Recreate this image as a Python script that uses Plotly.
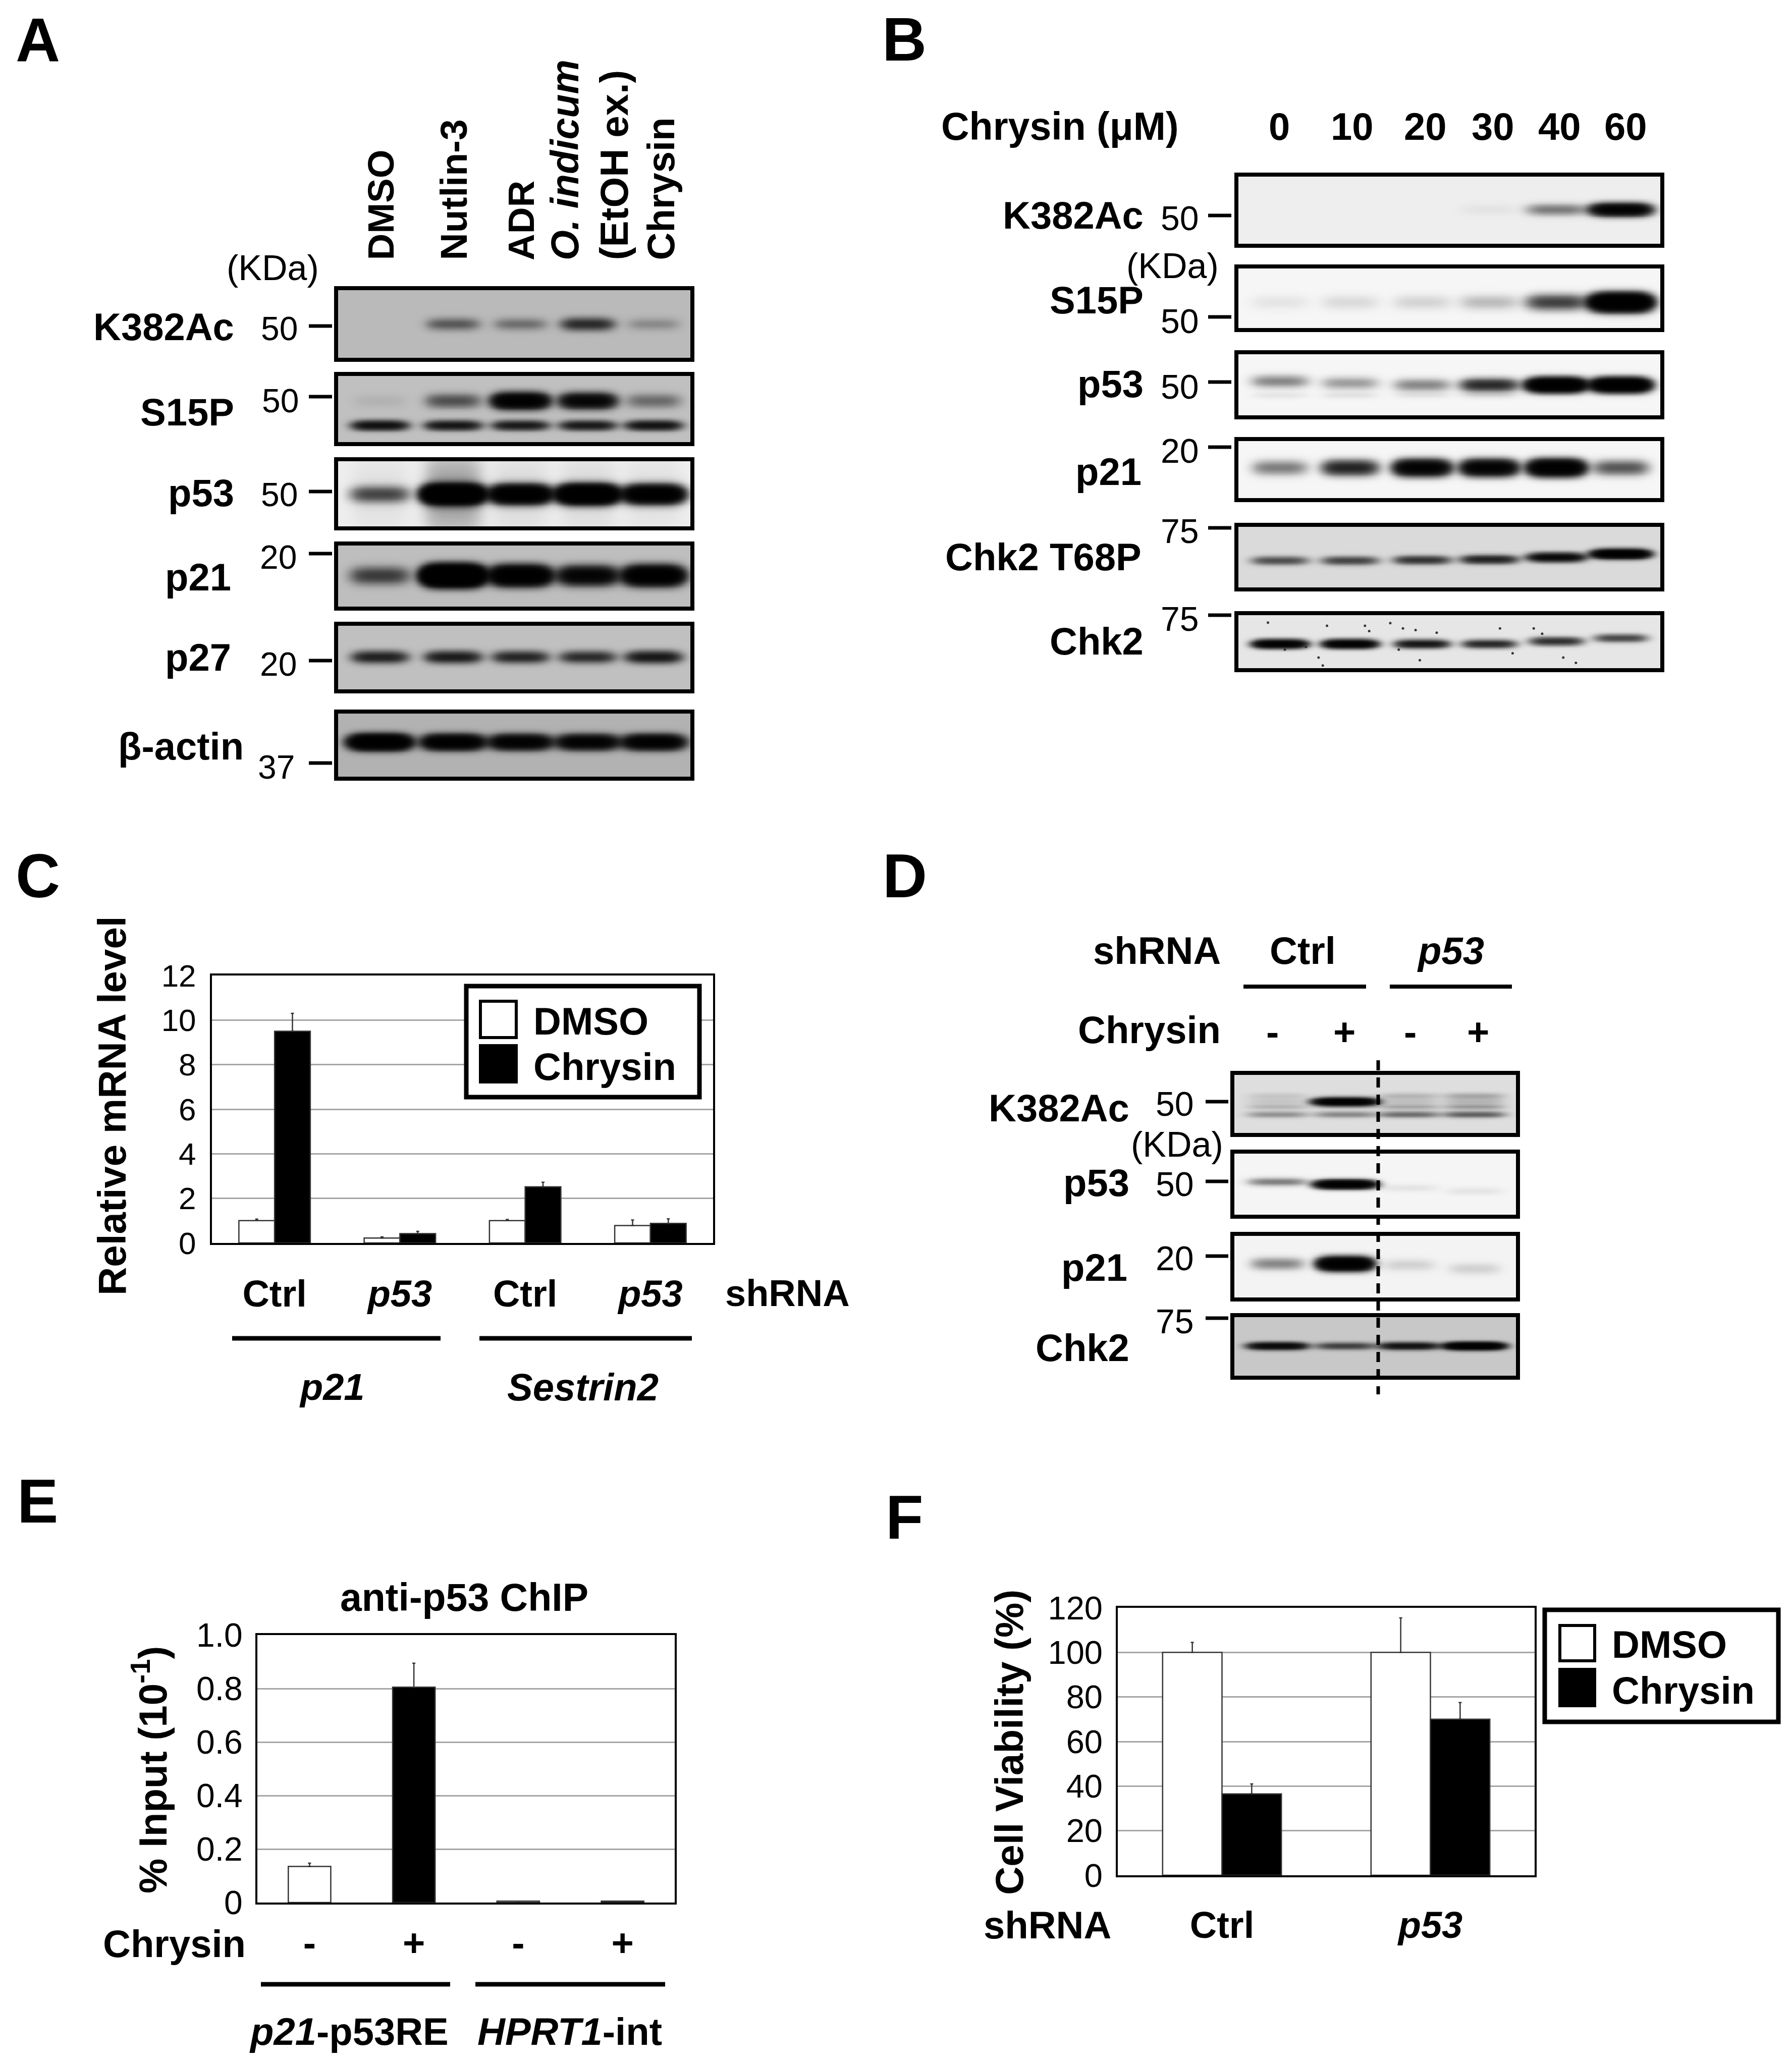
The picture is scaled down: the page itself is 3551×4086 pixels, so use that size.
"""Figure panels A-F: western blots, qPCR, ChIP and viability bars."""

import numpy as np
import plotly.graph_objects as go

W, H = 3551, 4086
PAGE_MARGIN = 8  # default body margin of the written page
FONT = "Liberation Sans"

# band density per lane
A_LANES = [0.118, 0.326, 0.517, 0.708, 0.895]
A_K382AC = [0.0, 0.5, 0.35, 1.0, 0.2]
A_S15P_UPPER = [0.05, 0.6, 3.5, 2.4, 0.4]
A_S15P_LOWER = [1.7, 1.5, 1.4, 1.4, 1.6]
A_P53 = [0.8, 8.0, 5.0, 7.0, 4.5]
A_P53_SMEAR = [0.04, 0.3, 0.06, 0.06, 0.04]
A_P21 = [0.8, 10.0, 5.0, 2.6, 4.5]
A_P27 = [1.2, 1.3, 1.1, 1.0, 1.4]
A_ACTIN = [5.0, 3.6, 3.0, 2.8, 3.2]

B_LANES = [0.098, 0.264, 0.435, 0.594, 0.753, 0.906]
B_K382AC = [0.0, 0.0, 0.0, 0.03, 0.45, 3.0]
B_S15P = [0.05, 0.08, 0.1, 0.18, 0.9, 6.0]
B_P53 = [0.4, 0.3, 0.4, 1.2, 5.0, 5.0]
B_P53_LOWER = [0.05, 0.06, 0.05, 0.07, 0.0, 0.0]
B_P21 = [0.45, 1.3, 3.0, 3.0, 4.0, 0.7]
B_T68P = [0.7, 0.8, 1.0, 1.3, 2.2, 4.0]
B_CHK2 = [3.0, 3.0, 1.6, 1.2, 1.1, 0.8]
B_SPECK_X = [0.07, 0.21, 0.30, 0.31, 0.36, 0.39, 0.19, 0.20, 0.43, 0.62,
             0.65, 0.70, 0.72, 0.77, 0.80, 0.42, 0.47, 0.38, 0.16, 0.11]
B_SPECK_Y = [0.14, 0.20, 0.20, 0.30, 0.15, 0.25, 0.80, 0.95, 0.85, 0.25,
             0.72, 0.25, 0.35, 0.80, 0.90, 0.28, 0.33, 0.65, 0.60, 0.65]

D_LANES = [0.152, 0.393, 0.619, 0.852]
D_K382AC_TOP = [0.08, 0.0, 0.14, 0.2]
D_K382AC_MAIN = [0.08, 3.5, 0.1, 0.14]
D_K382AC_MID = [0.14, 0.0, 0.2, 0.25]
D_K382AC_LOW = [0.3, 0.35, 0.5, 0.6]
D_P53 = [0.45, 4.0, 0.05, 0.05]
D_P21 = [0.4, 4.5, 0.1, 0.1]
D_CHK2 = [2.2, 0.8, 1.7, 4.0]

# panel C
C_GROUPS = ["Ctrl", "<i>p53</i>", "Ctrl", "<i>p53</i>"]
C_DMSO = [1.0, 0.22, 1.0, 0.78]
C_DMSO_ERR = [0.07, 0.05, 0.05, 0.25]
C_CHRYSIN = [9.5, 0.42, 2.52, 0.88]
C_CHRYSIN_ERR = [0.8, 0.1, 0.2, 0.2]
C_TICKS = [0, 2, 4, 6, 8, 10, 12]

# panel E
E_TREATMENT = ["-", "+", "-", "+"]
E_INPUT = [0.135, 0.805, 0.005, 0.005]
E_INPUT_ERR = [0.012, 0.09, 0.0, 0.0]
E_TICKS = [0, 0.2, 0.4, 0.6, 0.8, 1.0]
E_TICK_TEXT = ["0", "0.2", "0.4", "0.6", "0.8", "1.0"]

# panel F
F_GROUPS = ["Ctrl", "<i>p53</i>"]
F_DMSO = [100, 100]
F_DMSO_ERR = [4.5, 15.5]
F_CHRYSIN = [36.5, 70]
F_CHRYSIN_ERR = [4.5, 7.5]
F_TICKS = [0, 20, 40, 60, 80, 100, 120]

fig = go.Figure()
shapes = []
notes = []
axis_count = 0


def X(px):
    return (px - PAGE_MARGIN) / (W - 2 * PAGE_MARGIN)


def Y(py):
    return 1 - (py - PAGE_MARGIN) / (H - 2 * PAGE_MARGIN)


def new_axes(x0, y0, x1, y1, xaxis, yaxis):
    global axis_count
    axis_count += 1
    n = "" if axis_count == 1 else str(axis_count)
    fig.layout["xaxis" + n] = dict(domain=[X(x0), X(x1)], anchor="y" + n, automargin=False, **xaxis)
    fig.layout["yaxis" + n] = dict(domain=[Y(y1), Y(y0)], anchor="x" + n, automargin=False, **yaxis)
    return "x" + n, "y" + n


def note(text, x, y, size=76, anchor="center", bold=True, angle=0, yanchor="middle"):
    notes.append(dict(
        text=f"<b>{text}</b>" if bold else text,
        x=X(x), y=Y(y), xref="paper", yref="paper",
        xanchor=anchor, yanchor=yanchor, textangle=angle, showarrow=False,
        font=dict(family=FONT, size=size, color="black"),
    ))


def rule(x0, y0, x1, y1, width=7, dash="solid"):
    shapes.append(dict(
        type="line", xref="paper", yref="paper", layer="above",
        x0=X(x0), y0=Y(y0), x1=X(x1), y1=Y(y1),
        line=dict(color="black", width=width, dash=dash),
    ))


def swatch(x0, y0, x1, y1, fill, line="black", width=6):
    shapes.append(dict(
        type="rect", xref="paper", yref="paper", layer="above",
        x0=X(x0), y0=Y(y0), x1=X(x1), y1=Y(y1),
        fillcolor=fill, line=dict(color=line, width=width),
    ))


def blot(box, bg, lanes, half_width, bands, specks=None):
    """box is the outer frame in pixels, bands are (density, y, thickness)."""
    x0, y0, x1, y1 = box
    nx, ny = int((x1 - x0) / 4), int((y1 - y0) / 4)
    gx, gy = np.meshgrid(np.linspace(0, 1, nx), np.linspace(0, 1, ny))
    load = np.zeros_like(gx)
    for density, ypos, thick in bands:
        ypos = np.broadcast_to(ypos, (len(lanes),))
        for lane, s, yy in zip(lanes, density, ypos):
            load += s * np.exp(-(np.abs(gx - lane) / half_width) ** 4
                               - ((gy - yy) / thick) ** 2)
    z = bg * np.exp(-1.5 * load)
    xa, ya = new_axes(
        x0 + 8, y0 + 8, x1 - 8, y1 - 8,
        dict(range=[0, 1], showticklabels=False, ticks="", showgrid=False,
             zeroline=False, showline=True, mirror=True, linewidth=8, linecolor="black"),
        dict(range=[1, 0], showticklabels=False, ticks="", showgrid=False,
             zeroline=False, showline=True, mirror=True, linewidth=8, linecolor="black"),
    )
    fig.add_trace(go.Heatmap(
        x=gx[0], y=gy[:, 0], z=z, xaxis=xa, yaxis=ya, zmin=0, zmax=255,
        colorscale=[[0, "black"], [1, "white"]], showscale=False, zsmooth="best",
    ))
    if specks:
        fig.add_trace(go.Scatter(
            x=specks[0], y=specks[1], xaxis=xa, yaxis=ya, mode="markers",
            marker=dict(color="#333333", size=5), showlegend=False,
        ))


# panel A blots
A_X = (662, 1376)
blot((A_X[0], 567, A_X[1], 717), 186, A_LANES, 0.072, [(A_K382AC, 0.5, 0.085)])
blot((A_X[0], 737, A_X[1], 884), 192, A_LANES, 0.075,
     [(A_S15P_UPPER, 0.375, 0.1), (A_S15P_LOWER, 0.745, 0.065)])
blot((A_X[0], 906, A_X[1], 1051), 238, A_LANES, 0.08,
     [(A_P53, 0.505, 0.115), (A_P53_SMEAR, 0.5, 0.6)])
blot((A_X[0], 1073, A_X[1], 1210), 190, A_LANES, 0.08, [(A_P21, 0.49, 0.13)])
blot((A_X[0], 1232, A_X[1], 1374), 192, A_LANES, 0.075, [(A_P27, 0.49, 0.085)])
blot((A_X[0], 1406, A_X[1], 1547), 178, A_LANES, 0.082, [(A_ACTIN, 0.45, 0.1)])

# panel B blots
B_X = (2446, 3298)
blot((B_X[0], 342, B_X[1], 491), 238, B_LANES, 0.068, [(B_K382AC, 0.49, 0.08)])
blot((B_X[0], 524, B_X[1], 658), 246, B_LANES, 0.068, [(B_S15P, 0.565, 0.12)])
blot((B_X[0], 694, B_X[1], 831), 246, B_LANES, 0.065,
     [(B_P53, [0.44, 0.47, 0.5, 0.5, 0.5, 0.5], 0.095), (B_P53_LOWER, 0.67, 0.05)])
blot((B_X[0], 866, B_X[1], 995), 246, B_LANES, 0.063, [(B_P21, 0.465, 0.12)])
blot((B_X[0], 1036, B_X[1], 1172), 218, B_LANES, 0.064,
     [(B_T68P, [0.555, 0.555, 0.545, 0.535, 0.5, 0.445], 0.065)])
blot((B_X[0], 1211, B_X[1], 1332), 230, B_LANES, 0.06,
     [(B_CHK2, [0.54, 0.54, 0.54, 0.54, 0.49, 0.43], 0.07)], (B_SPECK_X, B_SPECK_Y))

# panel D blots
D_X = (2438, 3012)
blot((D_X[0], 2122, D_X[1], 2253), 222, D_LANES, 0.105,
     [(D_K382AC_TOP, 0.36, 0.05), (D_K382AC_MAIN, 0.46, 0.06),
      (D_K382AC_MID, 0.55, 0.04), (D_K382AC_LOW, 0.68, 0.05)])
blot((D_X[0], 2278, D_X[1], 2415), 245, D_LANES, 0.1,
     [(D_P53, [0.46, 0.5, 0.56, 0.61], 0.06)])
blot((D_X[0], 2441, D_X[1], 2579), 243, D_LANES, 0.09,
     [(D_P21, [0.45, 0.45, 0.47, 0.53], 0.09)])
blot((D_X[0], 2602, D_X[1], 2734), 200, D_LANES, 0.1, [(D_CHK2, 0.49, 0.055)])


def chart_axes(box, xvals, xtext, xspan, yrange, yvals, ytext, tick_size, xsize, xoff, yoff):
    return new_axes(
        *box,
        dict(range=xspan, tickmode="array", tickvals=xvals, ticktext=xtext, ticks="",
             tickfont=dict(family=FONT, size=xsize, color="black"), ticklabelstandoff=xoff,
             showgrid=False, zeroline=False, showline=True, mirror=True,
             linecolor="black", linewidth=4),
        dict(range=yrange, tickmode="array", tickvals=yvals, ticktext=ytext, ticks="",
             tickfont=dict(family=FONT, size=tick_size, color="black"), ticklabelstandoff=yoff,
             showgrid=True, gridcolor="#a6a6a6", gridwidth=3, zeroline=False,
             showline=True, mirror=True, linecolor="black", linewidth=4),
    )


def bars(xa, ya, xs, vals, errs, fill, width=None):
    fig.add_trace(go.Bar(
        x=xs, y=vals, xaxis=xa, yaxis=ya, width=width,
        marker=dict(color=fill, line=dict(color="#333333", width=2.5)),
        error_y=dict(type="data", symmetric=False, array=errs, arrayminus=[0] * len(errs),
                     color="#333333", thickness=2.5, width=3),
        showlegend=False,
    ))


def bold(labels):
    return [f"<b>{t}</b>" for t in labels]


# panel C
xa, ya = chart_axes((420, 1933, 1413, 2463), [0, 1, 2, 3], bold(C_GROUPS), [-0.5, 3.5],
                    [0, 12], C_TICKS, [str(t) for t in C_TICKS], 62, 74, 33, 15)
bars(xa, ya, list(range(4)), C_DMSO, C_DMSO_ERR, "white")
bars(xa, ya, list(range(4)), C_CHRYSIN, C_CHRYSIN_ERR, "black")

# panel E
xa, ya = chart_axes((510, 3240, 1337, 3770), [0, 1, 2, 3], bold(E_TREATMENT), [-0.5, 3.5],
                    [0, 1], E_TICKS, E_TICK_TEXT, 66, 76, 11, 12)
bars(xa, ya, list(range(4)), E_INPUT, E_INPUT_ERR, ["white", "black", "white", "black"], width=0.407)

# panel F
xa, ya = chart_axes((2215, 3186, 3041, 3716), [0, 1], bold(F_GROUPS), [-0.5, 1.5],
                    [0, 120], F_TICKS, [str(t) for t in F_TICKS], 65, 74, 31, 13)
bars(xa, ya, [0, 1], F_DMSO, F_DMSO_ERR, "white")
bars(xa, ya, [0, 1], F_CHRYSIN, F_CHRYSIN_ERR, "black")

# panel letters
for letter, lx, ly in [("A", 75, 80), ("B", 1792, 78), ("C", 75, 1736),
                       ("D", 1793, 1736), ("E", 74, 2975), ("F", 1792, 3007)]:
    note(letter, lx, ly, size=122)

# panel A text
for label, ly, rx in [("K382Ac", 648, 466), ("S15P", 816, 466), ("p53", 976, 466),
                      ("p21", 1144, 460), ("p27", 1302, 460), ("β-actin", 1478, 485)]:
    note(label, rx, ly, anchor="right")
for label, ly, rx in [("50", 651, 592), ("50", 794, 594), ("50", 980, 592),
                      ("20", 1104, 590), ("20", 1316, 590), ("37", 1520, 586)]:
    note(label, rx, ly, size=66, anchor="right", bold=False)
note("(KDa)", 540, 531, size=70, bold=False)
for ly in [646, 786, 974, 1097, 1309, 1512]:
    rule(612, ly, 658, ly)
for label, lx, size in [("DMSO", 754, 73), ("Nutlin-3", 899, 75), ("ADR", 1033, 73),
                        ("<i>O. indicum</i>", 1119, 77), ("(EtOH ex.)", 1217, 78),
                        ("Chrysin", 1309, 76)]:
    note(label, lx, 518, size=size, angle=-90, yanchor="bottom")

# panel B text
note("Chrysin (μM)", 1863, 250, anchor="left", size=77)
for label, lx in [("0", 2535), ("10", 2679), ("20", 2824), ("30", 2958), ("40", 3090), ("60", 3221)]:
    note(label, lx, 250, size=76)
for label, ly, rx in [("K382Ac", 427, 2268), ("S15P", 594, 2268), ("p53", 760, 2268),
                      ("p21", 934, 2264), ("Chk2 T68P", 1103, 2264), ("Chk2", 1270, 2268)]:
    note(label, rx, ly, anchor="right")
for label, ly in [("50", 432), ("50", 636), ("50", 766), ("20", 893), ("75", 1052), ("75", 1226)]:
    note(label, 2378, ly, size=68, anchor="right", bold=False)
note("(KDa)", 2323, 527, size=70, bold=False)
for ly in [427, 628, 757, 886, 1046, 1219]:
    rule(2394, ly, 2440, ly)

# panel C text
note("Relative mRNA level", 222, 2192, size=78, angle=-90)
note("shRNA", 1560, 2562, size=74)
note("<i>p21</i>", 658, 2748, size=74)
note("<i>Sestrin2</i>", 1155, 2748, size=76)
rule(460, 2652, 873, 2652, width=9)
rule(950, 2652, 1371, 2652, width=9)
swatch(924, 1954, 1386, 2174, "white", width=9)
swatch(952, 1984, 1023, 2056, "white")
swatch(952, 2072, 1023, 2144, "black")
note("DMSO", 1055, 2023, size=76, anchor="left")
note("Chrysin", 1055, 2113, size=76, anchor="left")

# panel D text
note("shRNA", 2421, 1883, anchor="right")
note("Ctrl", 2581, 1883)
note("<i>p53</i>", 2874, 1883)
rule(2464, 1955, 2707, 1955, width=8)
rule(2754, 1955, 2996, 1955, width=8)
note("Chrysin", 2421, 2040, anchor="right")
for label, lx in [("-", 2521), ("+", 2664), ("-", 2794), ("+", 2929)]:
    note(label, lx, 2044)
for label, ly, rx in [("K382Ac", 2195, 2240), ("p53", 2343, 2240), ("p21", 2511, 2236), ("Chk2", 2670, 2240)]:
    note(label, rx, ly, anchor="right")
for label, ly in [("50", 2187), ("50", 2346), ("20", 2493), ("75", 2618)]:
    note(label, 2368, ly, size=68, anchor="right", bold=False)
note("(KDa)", 2332, 2268, size=70, bold=False)
for ly in [2183, 2341, 2489, 2612]:
    rule(2389, ly, 2434, ly)
rule(2731, 2101, 2731, 2763, width=7, dash="20px,14px")

# panel E text
note("anti-p53 ChIP", 920, 3165, size=77)
note("% Input (10<sup>-1</sup>)", 297, 3507, size=78, angle=-90)
note("Chrysin", 489, 3851, anchor="right")
rule(517, 3932, 892, 3932, width=9)
rule(942, 3932, 1318, 3932, width=9)
note("<i>p21</i>-p53RE", 691, 4025)
note("<i>HPRT1</i>-int", 1129, 4025)

# panel F text
note("Cell Viability (%)", 2000, 3452, size=78, angle=-90)
note("shRNA", 2075, 3814, size=76)
swatch(3061, 3190, 3524, 3412, "white", width=9)
swatch(3091, 3221, 3160, 3291, "white")
swatch(3091, 3308, 3160, 3380, "black")
note("DMSO", 3192, 3258, size=76, anchor="left")
note("Chrysin", 3192, 3349, size=76, anchor="left")

fig.update_layout(
    width=W - 2 * PAGE_MARGIN, height=H - 2 * PAGE_MARGIN, margin=dict(l=0, r=0, t=0, b=0, pad=0),
    paper_bgcolor="white", plot_bgcolor="white",
    barmode="group", bargap=0.43, bargroupgap=0,
    showlegend=False, shapes=shapes, annotations=notes,
    font=dict(family=FONT, color="black"),
)
fig.write_html("out.html")
